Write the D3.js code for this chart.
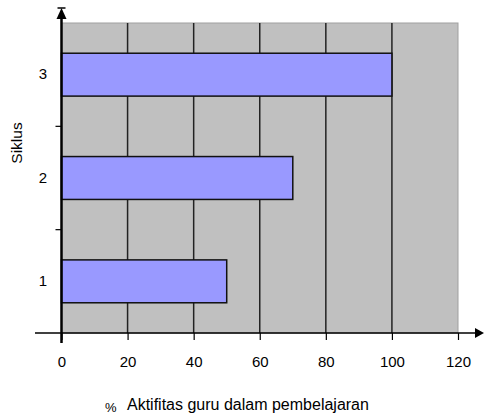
<!DOCTYPE html>
<html><head><meta charset="utf-8">
<script src="https://cdn.jsdelivr.net/npm/d3@7"></script>
<style>body{margin:0;background:#fff}svg{display:block}</style>
</head><body>
<svg id="c" width="484" height="415"></svg>
<script>
const categories = ["1", "2", "3"];
const values = [50, 70, 100];
const xTicks = [0, 20, 40, 60, 80, 100, 120];
const xTitlePct = "%";
const xTitle = "Aktifitas guru dalam pembelajaran";
const yTitle = "Siklus";

const svg = d3.select("#c");
const L = 61.5, R = 458, T = 23, B = 333;
const x = d3.scaleLinear().domain([0, 120]).range([L, R]);
const y = d3.scaleBand().domain(categories.slice().reverse()).range([T, B])
  .paddingInner(0.585).paddingOuter(0.2925);
const band = d3.scaleBand().domain(categories.slice().reverse()).range([T, B]);
const font = "'Liberation Sans', Arial, sans-serif";

// plot background
svg.append("rect").attr("x", L).attr("y", T).attr("width", R - L).attr("height", B - T)
  .attr("fill", "#c0c0c0").attr("stroke", "#a0a0a0").attr("stroke-width", 1);

// grid lines
svg.append("g").selectAll("line").data(xTicks.filter(d => d > 0 && d < 120)).join("line")
  .attr("x1", d => x(d)).attr("x2", d => x(d)).attr("y1", T).attr("y2", B)
  .attr("stroke", "#222").attr("stroke-width", 1.5);

// bars
svg.append("g").selectAll("rect").data(values).join("rect")
  .attr("x", x(0)).attr("y", (d, i) => y(categories[i]))
  .attr("width", d => x(d) - x(0)).attr("height", y.bandwidth())
  .attr("fill", "#9999ff").attr("stroke", "#111").attr("stroke-width", 1.5);

// x axis
const xa = svg.append("g").attr("transform", `translate(0,${B})`)
  .call(d3.axisBottom(x).tickValues(xTicks).tickSize(7).tickPadding(16).tickFormat(d3.format("d")));
xa.select(".domain").remove();
xa.selectAll(".tick line").attr("stroke", "#000").attr("stroke-width", 1.2);
xa.selectAll(".tick text").attr("font-family", font).attr("font-size", 15).attr("fill", "#000");
svg.append("line").attr("x1", 35).attr("x2", 478).attr("y1", B).attr("y2", B)
  .attr("stroke", "#000").attr("stroke-width", 1.5);
svg.append("path").attr("d", `M484,${B} L475,${B - 5} L475,${B + 5} Z`).attr("fill", "#000");

// y axis
const ya = svg.append("g").attr("transform", `translate(${L},0)`)
  .call(d3.axisLeft(y).tickSize(0).tickPadding(14.5));
ya.select(".domain").remove();
ya.selectAll(".tick text").attr("font-family", font).attr("font-size", 15).attr("fill", "#000");
// y ticks at band boundaries
svg.append("g").selectAll("line").data(categories.slice(0, 2)).join("line")
  .attr("x1", L - 6).attr("x2", L).attr("y1", d => band(d)).attr("y2", d => band(d))
  .attr("stroke", "#000").attr("stroke-width", 1.2);
svg.append("line").attr("x1", L).attr("x2", L).attr("y1", 18).attr("y2", 343)
  .attr("stroke", "#000").attr("stroke-width", 2.5);
svg.append("path").attr("d", `M${L},8 L${L - 5},19 L${L + 5},19 Z`).attr("fill", "#000");
svg.append("line").attr("x1", L - 4).attr("x2", L + 4).attr("y1", 8).attr("y2", 8)
  .attr("stroke", "#000").attr("stroke-width", 1.5);

// titles
svg.append("text").attr("x", 105).attr("y", 412)
  .attr("font-family", font).attr("font-size", 13).attr("fill", "#000").text(xTitlePct);
svg.append("text").attr("x", 127).attr("y", 410)
  .attr("font-family", font).attr("font-size", 16).attr("fill", "#000").text(xTitle);
svg.append("text").attr("transform", "translate(22,143) rotate(-90)").attr("text-anchor", "middle")
  .attr("font-family", font).attr("font-size", 15.5).attr("fill", "#000").text(yTitle);
</script>
</body></html>
